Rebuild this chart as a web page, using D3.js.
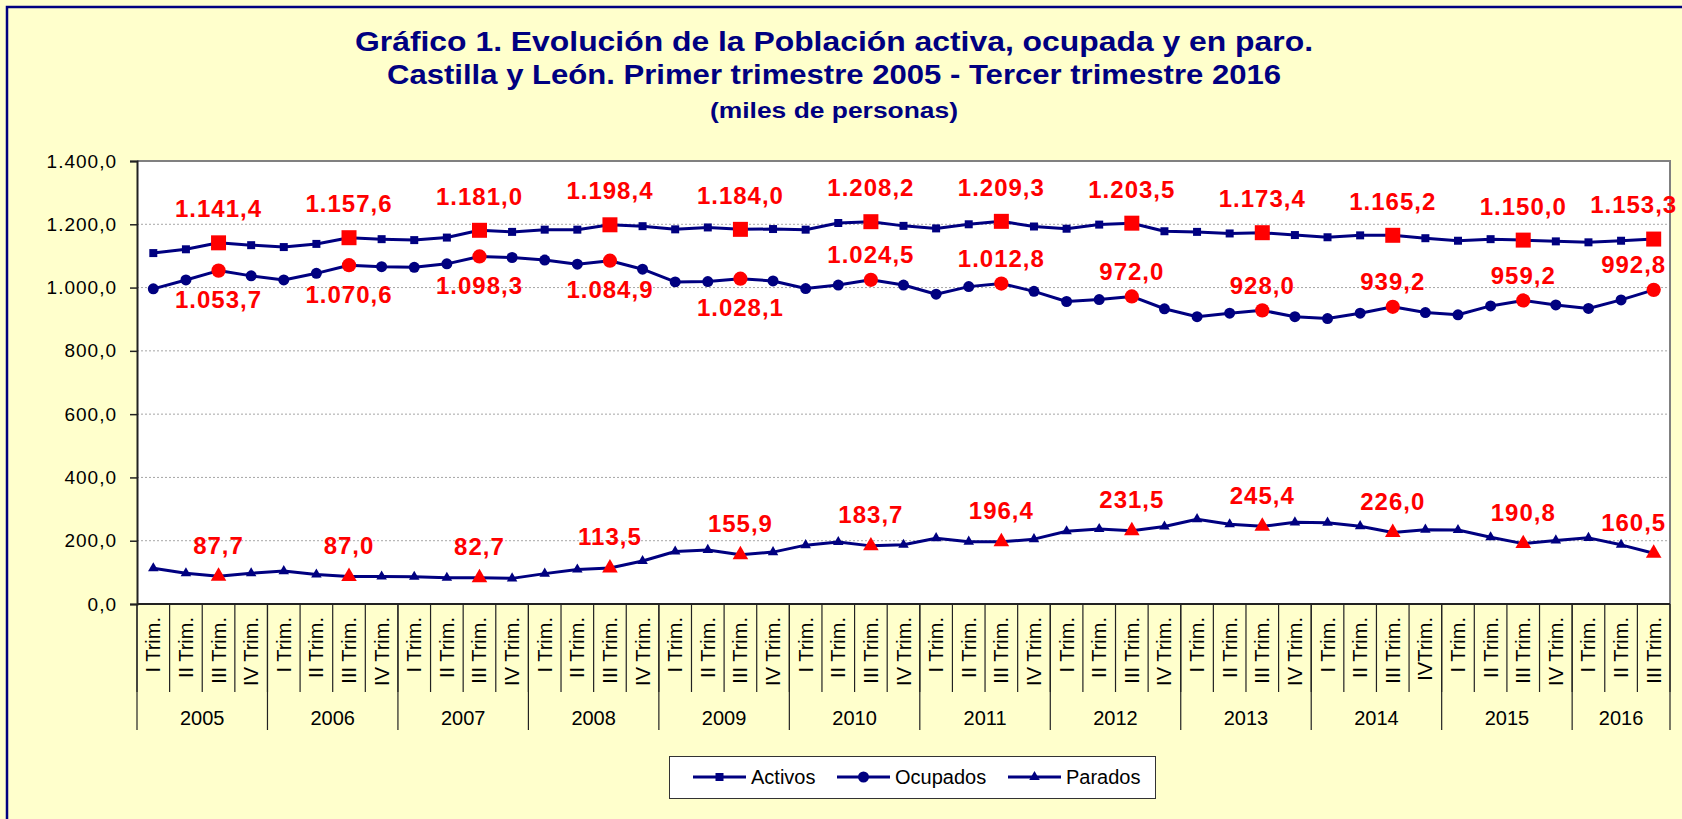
<!DOCTYPE html>
<html>
<head>
<meta charset="utf-8">
<script src="https://cdn.jsdelivr.net/npm/d3@7"></script>
<style>
  html, body { margin: 0; padding: 0; background: #FFFFCC; overflow: hidden; }
  svg { display: block; font-family: "Liberation Sans", Arial, sans-serif; }
</style>
</head>
<body>
<div id="chart"></div>
<script>
// Gráfico 1 – Población activa, ocupada y en paro. Castilla y León (miles de personas)

const quarterLabels = [
  "I Trim.", "II Trim.", "III Trim.", "IV Trim.",   // 2005
  "I Trim.", "II Trim.", "III Trim.", "IV Trim.",   // 2006
  "I Trim.", "II Trim.", "III Trim.", "IV Trim.",   // 2007
  "I Trim.", "II Trim.", "III Trim.", "IV Trim.",   // 2008
  "I Trim.", "II Trim.", "III Trim.", "IV Trim.",   // 2009
  "I Trim.", "II Trim.", "III Trim.", "IV Trim.",   // 2010
  "I Trim.", "II Trim.", "III Trim.", "IV Trim.",   // 2011
  "I Trim.", "II Trim.", "III Trim.", "IV Trim.",   // 2012
  "I Trim.", "II Trim.", "III Trim.", "IV Trim.",   // 2013
  "I Trim.", "II Trim.", "III Trim.", "IVTrim.",    // 2014
  "I Trim.", "II Trim.", "III Trim.", "IV Trim.",   // 2015
  "I Trim.", "II Trim.", "III Trim."                // 2016
];
const yearLabels = ["2005","2006","2007","2008","2009","2010","2011","2012","2013","2014","2015","2016"];
const quartersPerYear = [4,4,4,4,4,4,4,4,4,4,4,3];

const activos = [
  1109, 1121, 1141.4, 1134,
  1128, 1138, 1157.6, 1153,
  1150, 1158, 1181.0, 1176,
  1183, 1183, 1198.4, 1194,
  1184, 1190, 1184.0, 1185,
  1183, 1204, 1208.2, 1195,
  1187, 1200, 1209.3, 1193,
  1186, 1199, 1203.5, 1178,
  1176, 1171, 1173.4, 1166,
  1159, 1165, 1165.2, 1156,
  1148, 1153, 1150.0, 1146,
  1143, 1148, 1153.3
];
const ocupados = [
  996, 1024, 1053.7, 1037,
  1024, 1045, 1070.6, 1066,
  1064, 1075, 1098.3, 1095,
  1087, 1074, 1084.9, 1058,
  1018, 1019, 1028.1, 1021,
  997, 1008, 1024.5, 1008,
  979, 1003, 1012.8, 988,
  956, 962, 972.0, 933,
  908, 919, 928.0, 908,
  902, 919, 939.2, 921,
  914, 942, 959.2, 945,
  934, 961, 992.8
];
const parados = [
  113, 97, 87.7, 97,
  104, 93, 87.0, 87,
  86, 83, 82.7, 81,
  96, 109, 113.5, 136,
  166, 171, 155.9, 164,
  186, 196, 183.7, 187,
  208, 197, 196.4, 205,
  230, 237, 231.5, 245,
  268, 252, 245.4, 258,
  257, 246, 226.0, 235,
  234, 211, 190.8, 201,
  209, 187, 160.5
];

const yTicks = [0, 200, 400, 600, 800, 1000, 1200, 1400];
const seriesNames = ["Activos", "Ocupados", "Parados"];
const titleLines = [
  "Gráfico 1. Evolución de la Población activa, ocupada y en paro.",
  "Castilla y León. Primer trimestre 2005 - Tercer trimestre 2016",
  "(miles de personas)"
];

// formato español: 1.234,5
const es = d3.formatLocale({ decimal: ",", thousands: ".", grouping: [3], currency: ["", " €"] });
const fmt = es.format(",.1f");

const W = 1682, H = 819;
const NAVY = "#000080", RED = "#FF0000";
const m = { left: 137, right: 1670, top: 161, bottom: 604 };
const n = quarterLabels.length;

const svg = d3.select("#chart").append("svg").attr("width", W).attr("height", H);

// fondo + marco
svg.append("rect").attr("width", W).attr("height", H).attr("fill", "#FFFFCC");
svg.append("rect").attr("x", 7).attr("y", 7).attr("width", W).attr("height", H)
  .attr("fill", "none").attr("stroke", NAVY).attr("stroke-width", 2.5);

// título (el original está algo ensanchado)
const title = svg.append("g").attr("fill", NAVY).attr("font-weight", "bold").attr("text-anchor", "middle");
const titleStyle = [
  { y: 51, size: 28, len: 958 },
  { y: 84, size: 28, len: 894 },
  { y: 118, size: 22, len: 248 }
];
titleLines.forEach((t, k) => {
  title.append("text").attr("x", 834).attr("y", titleStyle[k].y)
    .attr("font-size", titleStyle[k].size)
    .attr("textLength", titleStyle[k].len).attr("lengthAdjust", "spacingAndGlyphs")
    .text(t);
});

const x = d3.scaleBand().domain(d3.range(n)).range([m.left, m.right]).padding(0);
const y = d3.scaleLinear().domain([0, 1400]).range([m.bottom, m.top]);
const cx = i => x(i) + x.bandwidth() / 2;

// área de trazado
svg.append("rect").attr("x", m.left).attr("y", m.top)
  .attr("width", m.right - m.left).attr("height", m.bottom - m.top).attr("fill", "#fff");

// rejilla
svg.append("g").selectAll("line")
  .data(yTicks.filter(t => t > 0 && t < 1400)).join("line")
  .attr("x1", m.left).attr("x2", m.right)
  .attr("y1", d => y(d)).attr("y2", d => y(d))
  .attr("stroke", "#a6a6a6").attr("stroke-width", 1).attr("stroke-dasharray", "2,2");

// borde gris (arriba y derecha)
svg.append("path")
  .attr("d", `M${m.left},${m.top}H${m.right}V${m.bottom}`)
  .attr("fill", "none").attr("stroke", "#808080").attr("stroke-width", 2);

// eje Y
svg.append("g")
  .attr("transform", `translate(${m.left},0)`)
  .call(d3.axisLeft(y).tickValues(yTicks).tickSize(7).tickPadding(13).tickFormat(fmt))
  .call(g => g.select(".domain").attr("stroke", "#222").attr("stroke-width", 2))
  .call(g => g.selectAll(".tick line").attr("stroke", "#222").attr("stroke-width", 1.5))
  .call(g => g.selectAll(".tick text").attr("font-size", 19).attr("letter-spacing", 1)
    .attr("fill", "#000").attr("font-family", "Liberation Sans, Arial, sans-serif"));

// eje X de categorías
const ax = svg.append("g").attr("stroke", "#222");
ax.append("line").attr("x1", m.left).attr("x2", m.right).attr("y1", m.bottom).attr("y2", m.bottom)
  .attr("stroke-width", 2);
const edges = d3.range(n + 1).map(k => k < n ? x(k) : m.right);
ax.selectAll("line.q").data(edges).join("line").attr("class", "q")
  .attr("x1", d => d).attr("x2", d => d).attr("y1", m.bottom).attr("y2", 692).attr("stroke-width", 1.2);

const yearStart = d3.cumsum([0].concat(quartersPerYear));   // índices límite de cada año
ax.selectAll("line.yr").data(yearStart).join("line").attr("class", "yr")
  .attr("x1", k => k < n ? x(k) : m.right).attr("x2", k => k < n ? x(k) : m.right)
  .attr("y1", m.bottom).attr("y2", 730).attr("stroke-width", 1.2);

svg.append("g").attr("font-size", 20).attr("fill", "#000").attr("text-anchor", "end")
  .selectAll("text").data(quarterLabels).join("text")
  .attr("transform", (d, i) => `translate(${cx(i) + 7},617) rotate(-90)`)
  .text(d => d);

svg.append("g").attr("font-size", 20).attr("fill", "#000").attr("text-anchor", "middle")
  .selectAll("text").data(yearLabels).join("text")
  .attr("x", (d, j) => {
    const a = x(yearStart[j]);
    const b = yearStart[j + 1] < n ? x(yearStart[j + 1]) : m.right;
    return (a + b) / 2;
  })
  .attr("y", 725)
  .text(d => d);

// series
const line = d3.line().x((d, i) => cx(i)).y(d => y(d));
const series = [
  { name: seriesNames[0], values: activos,  sym: d3.symbolSquare,   small: 64, big: 225 },
  { name: seriesNames[1], values: ocupados, sym: d3.symbolCircle,   small: 95, big: 160 },
  { name: seriesNames[2], values: parados,  sym: d3.symbolTriangle, small: 48, big: 105 }
];
const isHi = i => i % 4 === 2;   // III trimestre resaltado

series.forEach(s => {
  svg.append("path").datum(s.values)
    .attr("d", line).attr("fill", "none")
    .attr("stroke", NAVY).attr("stroke-width", 3).attr("stroke-linejoin", "round");
  svg.append("g").selectAll("path")
    .data(s.values.map((v, i) => ({ v, i }))).join("path")
    .attr("transform", d => `translate(${cx(d.i)},${y(d.v)})`)
    .attr("d", d => d3.symbol().type(s.sym).size(isHi(d.i) ? s.big : s.small)())
    .attr("fill", d => isHi(d.i) ? RED : NAVY);
});

// etiquetas de datos
const hiIdx = d3.range(n).filter(isHi);
const lastIdx = n - 1;
const labels = svg.append("g").attr("fill", RED).attr("font-weight", "bold")
  .attr("font-size", 24).attr("letter-spacing", 1).attr("text-anchor", "middle");

function addLabels(values, offsetFor) {
  labels.append("g").selectAll("text").data(hiIdx).join("text")
    .attr("x", i => cx(i) + (i === lastIdx ? -20 : 0))
    .attr("y", (i, k) => y(values[i]) + offsetFor(k))
    .attr("dy", "0.35em")
    .text(i => fmt(values[i]));
}
addLabels(activos, () => -34);
addLabels(ocupados, k => k < 5 ? 29 : -25);
addLabels(parados, () => -31);

// leyenda
const lg = svg.append("g");
lg.append("rect").attr("x", 669.5).attr("y", 756.5).attr("width", 486).attr("height", 42)
  .attr("fill", "#fff").attr("stroke", "#333").attr("stroke-width", 1);
const legendX = [693, 837, 1008];
const ly = 777;
series.forEach((s, k) => {
  const g = lg.append("g").attr("transform", `translate(${legendX[k]},${ly})`);
  g.append("line").attr("x1", 0).attr("x2", 53).attr("stroke", NAVY).attr("stroke-width", 3);
  g.append("path").attr("transform", "translate(26.5,0)")
    .attr("d", d3.symbol().type(s.sym).size(s.small)()).attr("fill", NAVY);
  g.append("text").attr("x", 58).attr("dy", "0.35em").attr("font-size", 20).attr("fill", "#000")
    .text(s.name);
});
</script>
</body>
</html>
